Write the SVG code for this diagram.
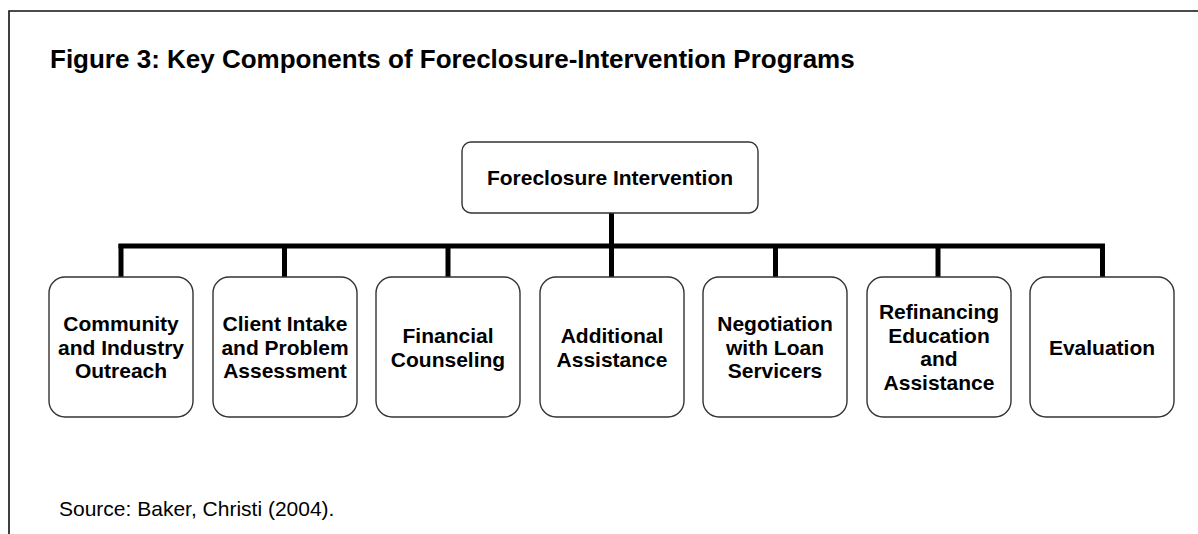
<svg xmlns="http://www.w3.org/2000/svg" width="1198" height="534" viewBox="0 0 1198 534">
  <style>
    .frame { fill: none; stroke: #111; stroke-width: 1.6; }
    .box { fill: #fff; stroke: #333; stroke-width: 1.4; }
    .wire { fill: none; stroke: #000; stroke-width: 5; stroke-linecap: butt; }
    .title { font-family: "Liberation Sans", Arial, sans-serif; font-weight: bold; font-size: 26px; fill: #000; }
    .label { font-family: "Liberation Sans", Arial, sans-serif; font-weight: bold; font-size: 21px; fill: #000; text-anchor: middle; }
    .note { font-family: "Liberation Sans", Arial, sans-serif; font-size: 21px; fill: #000; }
  </style>
  <rect width="1198" height="534" fill="#fff"/>

  <!-- page frame: top and left edges -->
  <path class="frame" d="M9,534 V11 H1198"/>

  <text class="title" x="50" y="68">Figure 3: Key Components of Foreclosure-Intervention Programs</text>

  <!-- tree connectors -->
  <g id="connectors">
    <path class="wire" d="M611.5,213 V246"/>
    <path class="wire" d="M118.5,246 H1105"/>
    <path class="wire" d="M121,244 V277"/>
    <path class="wire" d="M284.5,244 V277"/>
    <path class="wire" d="M448,244 V277"/>
    <path class="wire" d="M611.5,244 V277"/>
    <path class="wire" d="M775.5,244 V277"/>
    <path class="wire" d="M938,244 V277"/>
    <path class="wire" d="M1102.5,244 V277"/>
  </g>

  <g id="root">
    <rect class="box" x="462" y="142" width="296" height="71" rx="9"/>
    <text class="label" x="610" y="185">Foreclosure Intervention</text>
  </g>

  <g id="outreach">
    <rect class="box" x="49" y="277" width="144" height="140" rx="16"/>
    <text class="label" x="121" y="331">Community</text>
    <text class="label" x="121" y="354.5">and Industry</text>
    <text class="label" x="121" y="378">Outreach</text>
  </g>

  <g id="intake">
    <rect class="box" x="213" y="277" width="144" height="140" rx="16"/>
    <text class="label" x="285" y="331">Client Intake</text>
    <text class="label" x="285" y="354.5">and Problem</text>
    <text class="label" x="285" y="378">Assessment</text>
  </g>

  <g id="counseling">
    <rect class="box" x="376" y="277" width="144" height="140" rx="16"/>
    <text class="label" x="448" y="343">Financial</text>
    <text class="label" x="448" y="366.5">Counseling</text>
  </g>

  <g id="additional">
    <rect class="box" x="540" y="277" width="144" height="140" rx="16"/>
    <text class="label" x="612" y="343">Additional</text>
    <text class="label" x="612" y="366.5">Assistance</text>
  </g>

  <g id="negotiation">
    <rect class="box" x="703" y="277" width="144" height="140" rx="16"/>
    <text class="label" x="775" y="331">Negotiation</text>
    <text class="label" x="775" y="354.5">with Loan</text>
    <text class="label" x="775" y="378">Servicers</text>
  </g>

  <g id="refinancing">
    <rect class="box" x="867" y="277" width="144" height="140" rx="16"/>
    <text class="label" x="939" y="319">Refinancing</text>
    <text class="label" x="939" y="342.5">Education</text>
    <text class="label" x="939" y="366">and</text>
    <text class="label" x="939" y="389.5">Assistance</text>
  </g>

  <g id="evaluation">
    <rect class="box" x="1030" y="277" width="144" height="140" rx="16"/>
    <text class="label" x="1102" y="354.5">Evaluation</text>
  </g>

  <text class="note" x="59" y="516">Source: Baker, Christi (2004).</text>
</svg>
